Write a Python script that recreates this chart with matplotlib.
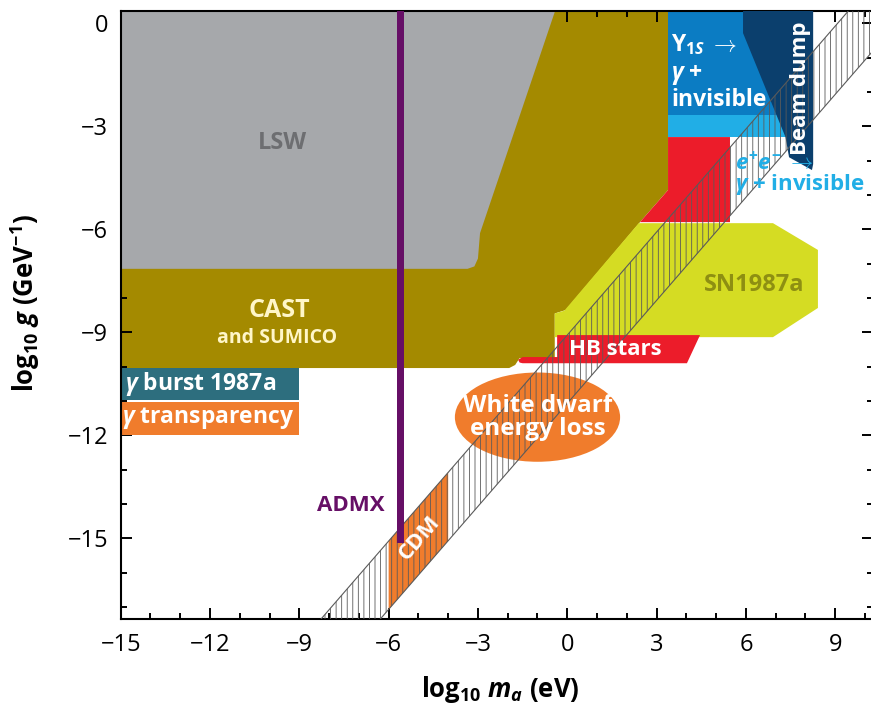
import matplotlib.pyplot as plt
from matplotlib.patches import Polygon, Ellipse

plt.rcParams['font.family'] = ['Open Sans', 'DejaVu Sans']
plt.rcParams['mathtext.fontset'] = 'custom'
plt.rcParams['mathtext.rm'] = 'Open Sans:bold'
plt.rcParams['mathtext.it'] = 'Open Sans:italic:bold'
plt.rcParams['mathtext.bf'] = 'Open Sans:bold'
plt.rcParams['hatch.linewidth'] = 0.6

# exclusion regions: vertices in (log10 m_a [eV], log10 g [GeV^-1])
lsw_m = [-15, -0.16, -2.93, -3.0, -3.12, -3.35, -15]
lsw_g = [1, 1, -6.11, -6.85, -7.08, -7.15, -7.15]

cast_m = [-15, -15, 3.385, 3.385, 2.443, -0.05, -0.42, -0.42, -1.6, -1.75, -1.95]
cast_g = [-10.04, 1, 1, -4.856, -5.79, -8.35, -8.45, -9.75, -9.75, -9.95, -10.04]

sn_m = [-0.42, -0.42, -0.1, 2.40, 6.91, 8.42, 8.42, 6.91, -0.42]
sn_g = [-9.14, -8.45, -8.37, -5.82, -5.82, -6.6, -8.29, -9.14, -9.14]

hb_m = [-1.6, -1.65, -1.5, -0.34, -0.34, 4.46, 4.02, -1.5]
hb_g = [-9.88, -9.8, -9.72, -9.72, -9.08, -9.08, -9.9, -9.9]

ups_m = [3.385, 7.4, 7.4, 3.385]
ups_g = [1, 1, -2.671, -2.671]
ups_lo_m = [3.385, 7.7, 7.7, 3.385]
ups_lo_g = [-2.671, -2.671, -3.312, -3.312]

beam_m = [5.904, 8.26, 8.26, 8.22, 7.45, 7.33, 5.904]
beam_g = [1, 1, -4.1, -4.273, -3.9, -3.312, -0.283]

ee_m = [3.385, 5.466, 5.466, 2.443, 3.385]
ee_g = [-3.312, -3.312, -5.79, -5.79, -4.856]

burst_m = [-15, -9]
burst_g = [-10.97, -10.04]
transp_m = [-15, -9]
transp_g = [-12.0, -11.03]

admx_m = [-5.71, -5.47]
admx_g = [-15.14, 1]

wd_center = (-1.0, -11.47)
wd_size = (5.55, 2.6)

# axion model band and the CDM part of it
band_m = [-9.5, 11.5, 13.5, -7.5]
band_g = [-18.58, 2.42, 2.43, -18.57]
cdm_m = [-6, -6, -4, -4]
cdm_g = [-17.07, -15.08, -13.08, -15.07]

xticks = [-15, -12, -9, -6, -3, 0, 3, 6, 9]
yticks = [0, -3, -6, -9, -12, -15]

c_gray = '#a6a8ab'
c_olive = '#a48a00'
c_yellow = '#d5dc23'
c_red = '#ec1c2a'
c_orange = '#f07c2c'
c_teal = '#2d6e7e'
c_purple = '#660f66'
c_blue = '#0b7cc3'
c_cyan = '#21aee6'
c_navy = '#0b3f6d'

fig = plt.figure(figsize=(8.71, 7.06), dpi=100)
ax = fig.add_axes([120.7 / 871, 1 - 619 / 706, (873 - 120.7) / 871, (619 - 11) / 706])

def region(m, g, color, z=2):
    ax.add_patch(Polygon(list(zip(m, g)), closed=True, facecolor=color,
                         edgecolor='none', zorder=z))

region(cast_m, cast_g, c_olive, 1)
region(lsw_m, lsw_g, c_gray, 2)
region(sn_m, sn_g, c_yellow, 2)
region(hb_m, hb_g, c_red, 3)
region(ups_m, ups_g, c_blue, 2)
region(ups_lo_m, ups_lo_g, c_cyan, 2)
region(beam_m, beam_g, c_navy, 3)
region(ee_m, ee_g, c_red, 3)
ax.fill_between(burst_m, burst_g[0], burst_g[1], color=c_teal, lw=0, zorder=2)
ax.fill_between(transp_m, transp_g[0], transp_g[1], color=c_orange, lw=0, zorder=2)
ax.add_patch(Ellipse(wd_center, wd_size[0], wd_size[1], facecolor=c_orange,
                     edgecolor='none', zorder=2))
region(cdm_m, cdm_g, c_orange, 2)

ax.add_patch(Polygon(list(zip(band_m, band_g)), closed=True, fill=False,
                     hatch='|||', edgecolor='#5a5a5a', lw=0.8, zorder=4))
ax.fill_between(admx_m, admx_g[0], admx_g[1], color=c_purple, lw=0, zorder=5)

# labels
bold = dict(fontweight='bold', zorder=6)
ax.text(-9.57, -3.49, 'LSW', color='#6d6e71', fontsize=17, ha='center', va='center', **bold)
ax.text(-9.68, -8.35, 'CAST', color='#fff6c8', fontsize=18, ha='center', va='center', **bold)
ax.text(-9.74, -9.17, 'and SUMICO', color='#fff6c8', fontsize=14, ha='center', va='center', **bold)
ax.text(-14.85, -10.51, r'$\gamma$ burst 1987a', color='white', fontsize=16.5, ha='left', va='center', **bold)
ax.text(-14.95, -11.5, r'$\gamma$ transparency', color='white', fontsize=16.5, ha='left', va='center', **bold)
ax.text(-7.26, -14.03, 'ADMX', color=c_purple, fontsize=16, ha='center', va='center', **bold)
ax.text(-4.95, -15.0, 'CDM', color='white', fontsize=16, ha='center', va='center', rotation=49, **bold)
ax.text(-1.0, -11.47, 'White dwarf\nenergy loss', color='white', fontsize=17.5, ha='center',
        va='center', linespacing=0.95, **bold)
ax.text(1.61, -9.5, 'HB stars', color='white', fontsize=16, ha='center', va='center', **bold)
ax.text(6.28, -7.62, 'SN1987a', color='#8e8f12', fontsize=17, ha='center', va='center', **bold)
ax.text(3.5, -0.63, r'$\Upsilon_{1S}$ $\rightarrow$', color='white', fontsize=16.5, ha='left', va='center', **bold)
ax.text(3.5, -1.5, r'$\gamma$ +', color='white', fontsize=16.5, ha='left', va='center', **bold)
ax.text(3.5, -2.24, 'invisible', color='white', fontsize=16.5, ha='left', va='center', **bold)
ax.text(7.85, -1.9, 'Beam dump', color='white', fontsize=16, ha='center', va='center', rotation=90, **bold)
ax.text(5.63, -4.38, '$e^{+}e^{-}$ $\\rightarrow$\n$\\gamma$ + invisible', color=c_cyan, fontsize=16,
        ha='left', va='center', linespacing=0.85, **bold)

ax.set_xlim(-15, 10.27)
ax.set_ylim(-17.35, 0.36)
ax.set_xticks(xticks)
ax.set_xticklabels([str(t).replace('-', '\u2212') for t in xticks])
ax.set_yticks(yticks)
ax.set_yticklabels([str(t).replace('-', '\u2212') for t in yticks])
ax.set_xticks(range(-15, 11), minor=True)
ax.set_yticks(range(-17, 1), minor=True)
ax.tick_params(which='both', direction='in', top=True, right=True, width=1.4,
               labelsize=17)
ax.tick_params(axis='x', pad=10)
ax.tick_params(axis='y', pad=9)
ax.tick_params(which='major', length=8)
ax.tick_params(which='minor', length=4.5)
for s in ax.spines.values():
    s.set_linewidth(1.5)

ax.set_xlabel(r'log$_{10}$ $m_a$ (eV)', fontsize=18.5, fontweight='bold')
ax.set_ylabel(r'log$_{10}$ $g$ (GeV$^{-1}$)', fontsize=18.5, fontweight='bold')
ax.xaxis.set_label_coords(0.504, -0.09)
ax.yaxis.set_label_coords(-0.105, 0.52)

fig.savefig('out.png', dpi=100)
